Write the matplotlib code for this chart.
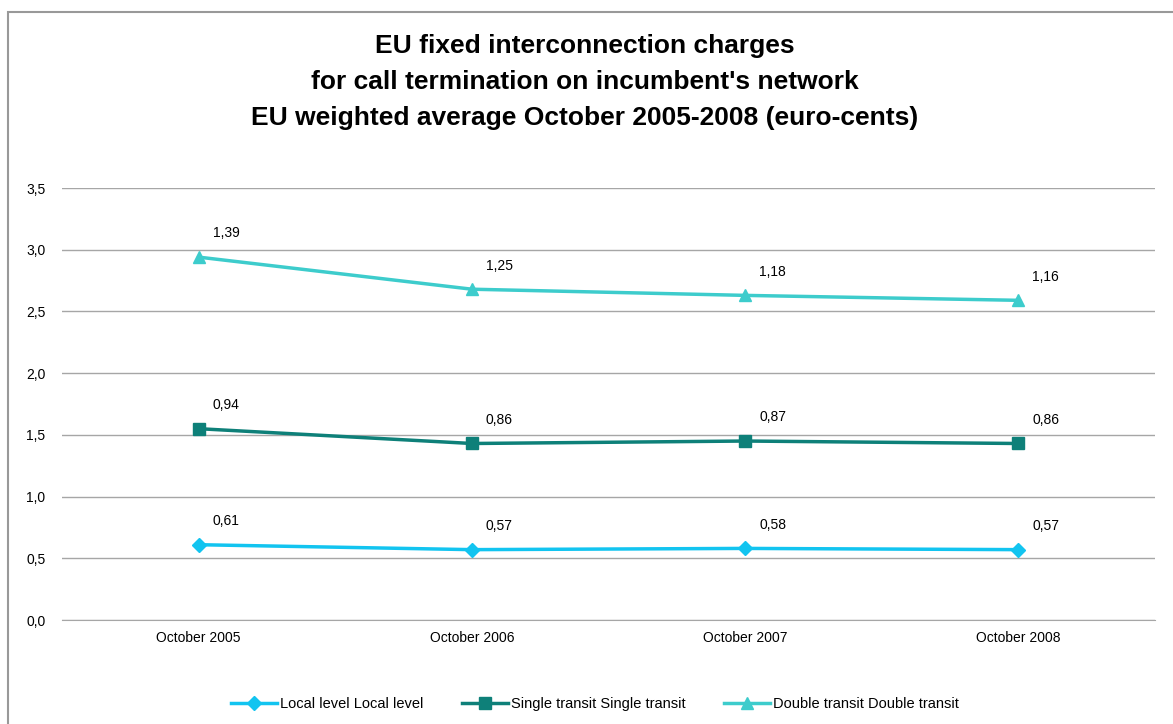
import matplotlib
matplotlib.use("Agg")
import matplotlib.pyplot as plt
from matplotlib.patches import Rectangle
import numpy as np

plt.rcParams['font.family'] = ['Liberation Sans', 'DejaVu Sans']

categories = ["October 2005", "October 2006", "October 2007", "October 2008"]
local_level = [0.61, 0.57, 0.58, 0.57]
single_transit = [0.94, 0.86, 0.87, 0.86]
double_transit = [1.39, 1.25, 1.18, 1.16]
yticks = [0.0, 0.5, 1.0, 1.5, 2.0, 2.5, 3.0, 3.5]
title = ("EU fixed interconnection charges\n"
         "for call termination on incumbent's network\n"
         "EU weighted average October 2005-2008 (euro-cents)")

W, H = 1173, 724
fig = plt.figure(figsize=(W / 100, H / 100), dpi=100)
fig.patches.append(Rectangle((8 / W, -0.01), 1.2, 1 - 12 / H + 0.01, transform=fig.transFigure,
                             fill=False, edgecolor='#999999', linewidth=1.5))

ax = fig.add_axes([62 / W, 1 - 620 / H, (1155 - 62) / W, (620 - 188) / H])
x = np.arange(len(categories))
s1 = np.array(local_level)
s2 = s1 + np.array(single_transit)
s3 = s2 + np.array(double_transit)

series = [
    ("Local level Local level", s1, local_level, '#12C4F0', 'D', 7),
    ("Single transit Single transit", s2, single_transit, '#0E8079', 's', 8),
    ("Double transit Double transit", s3, double_transit, '#3DCCCC', '^', 9),
]
for name, ys, vals, col, mk, ms in series:
    ax.plot(x, ys, color=col, marker=mk, markersize=ms, linewidth=2.5, label=name)
    for xi, yi, v in zip(x, ys, vals):
        ax.annotate(f"{v:.2f}".replace('.', ','), (xi, yi), xytext=(10, 12),
                    textcoords='offset points', fontsize=10, color='black', va='bottom', ha='left')

ax.set_xlim(-0.5, 3.5)
ax.set_ylim(0, 3.5)
ax.set_yticks(yticks)
ax.set_yticklabels([f"{t:.1f}".replace('.', ',') for t in yticks], fontsize=10)
ax.set_xticks(x)
ax.set_xticklabels(categories, fontsize=10)
ax.grid(axis='y', color='#A6A6A6', linewidth=1)
ax.set_axisbelow(True)
for sp in ['top', 'right', 'left']:
    ax.spines[sp].set_visible(False)
ax.spines['bottom'].set_color('#A6A6A6')
ax.tick_params(axis='both', length=0, pad=8)
ax.tick_params(axis='y', pad=12)

fig.text(585 / W, 1 - 82 / H, title, ha='center', va='center', fontsize=19, fontweight='bold',
         linespacing=1.65)

fig.legend(loc='center', bbox_to_anchor=(595 / W, 1 - 704 / H), ncol=3, frameon=False,
           fontsize=10.5, handlelength=3.2, columnspacing=2.6, handletextpad=0.2)

fig.savefig("out.png", dpi=100)
